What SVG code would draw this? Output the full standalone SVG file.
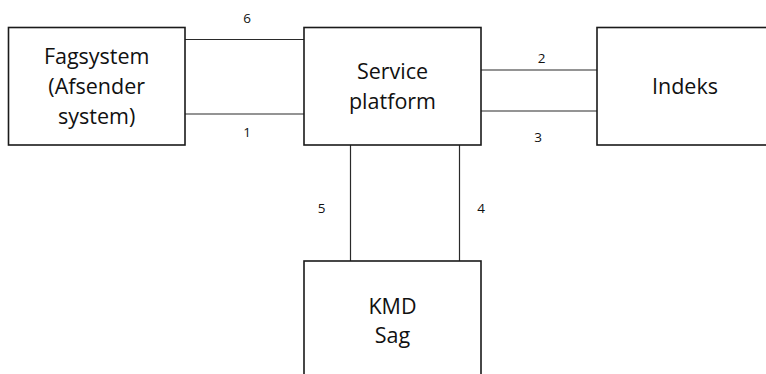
<svg xmlns="http://www.w3.org/2000/svg" width="766" height="374" viewBox="0 0 766 374">
<style>
.box{fill:#fff;stroke:#1a1a1a;stroke-width:1.6}
.ln{stroke:#2a2a2a;stroke-width:1.2;fill:none}
.t{font-family:"Open Sans","Noto Sans",sans-serif;font-size:21.5px;fill:#111;text-anchor:middle}
.n{font-family:"Open Sans","Noto Sans",sans-serif;font-size:13.5px;fill:#111;text-anchor:middle}
</style>
<rect width="766" height="374" fill="#fff"/>
<g id="connectors">
<line class="ln" x1="185" y1="39.5" x2="304" y2="39.5"/>
<line class="ln" x1="185" y1="114" x2="304" y2="114"/>
<line class="ln" x1="481" y1="70" x2="597" y2="70"/>
<line class="ln" x1="481" y1="111" x2="597" y2="111"/>
<line class="ln" x1="350.5" y1="145" x2="350.5" y2="261"/>
<line class="ln" x1="459.5" y1="145" x2="459.5" y2="261"/>
<text class="n" x="247" y="23">6</text>
<text class="n" x="247" y="137">1</text>
<text class="n" x="541.5" y="63">2</text>
<text class="n" x="538" y="142">3</text>
<text class="n" x="321.5" y="213">5</text>
<text class="n" x="481" y="213">4</text>
</g>
<g id="fagsystem">
<rect class="box" x="8.5" y="27.5" width="176.5" height="117.5"/>
<text class="t" x="96.7" y="64">Fagsystem</text>
<text class="t" x="96.7" y="94">(Afsender</text>
<text class="t" x="96.7" y="124">system)</text>
</g>
<g id="service">
<rect class="box" x="304" y="27.5" width="177" height="117.5"/>
<text class="t" x="392.5" y="79">Service</text>
<text class="t" x="392.5" y="108.5">platform</text>
</g>
<g id="indeks">
<rect class="box" x="597" y="27.5" width="177" height="117.5"/>
<text class="t" x="685" y="94">Indeks</text>
</g>
<g id="kmd">
<rect class="box" x="304" y="261" width="177" height="117.5"/>
<text class="t" x="392.5" y="313.5">KMD</text>
<text class="t" x="392.5" y="343">Sag</text>
</g>
</svg>
